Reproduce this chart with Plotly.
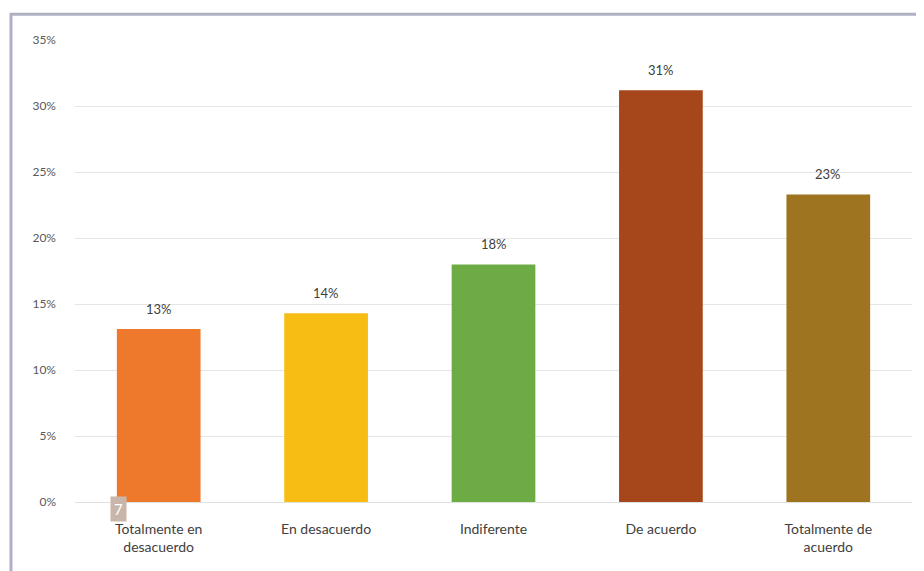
import plotly.graph_objects as go

categorias = ["Totalmente en<br>desacuerdo", "En desacuerdo", "Indiferente",
              "De acuerdo", "Totalmente de<br>acuerdo"]
porcentajes = [13.1, 14.3, 18.0, 31.2, 23.3]
etiquetas = ["13%", "14%", "18%", "31%", "23%"]
colores = ["#ee782c", "#f8bd12", "#6dab45", "#a5471a", "#9e7420"]
ticks_y = [0, 5, 10, 15, 20, 25, 30, 35]
ticks_y_texto = ["0%", "5%", "10%", "15%", "20%", "25%", "30%", "35%"]

fig = go.Figure([
    go.Bar(x=categorias, y=porcentajes,
           marker=dict(color=colores, line=dict(width=0)))
])

# etiquetas de datos sobre cada barra
for cat, val, txt in zip(categorias, porcentajes, etiquetas):
    fig.add_annotation(x=cat, y=val, text=txt, showarrow=False,
                       yanchor="bottom", yshift=10,
                       font=dict(size=13, color="#404040"))

fig.update_layout(
    width=924, height=571,
    margin=dict(l=67, r=20, t=32, b=77),
    paper_bgcolor="white", plot_bgcolor="white",
    font=dict(family="Lato, Open Sans, sans-serif", size=13, color="#595959"),
    bargap=0.5,
    showlegend=False,
)
fig.update_yaxes(range=[0, 35], tickvals=ticks_y, ticktext=ticks_y_texto,
                 showgrid=True, gridcolor="#e6e6e6", gridwidth=1,
                 zeroline=False, showline=False, ticklabelstandoff=18,
                 tickfont=dict(size=12, color="#595959"))
fig.update_xaxes(showline=True, linecolor="#e0e0e0", ticks="",
                 ticklabelstandoff=14,
                 tickfont=dict(size=14, color="#404040"))

# marco exterior del gráfico
fig.add_shape(type="rect", xref="paper", yref="paper",
              x0=-0.0765, x1=1.05, y0=-0.3, y1=1.056,
              line=dict(color="#aeb1c4", width=3), layer="below")

# pequeño recuadro "7"
fig.add_annotation(xref="paper", yref="paper", x=0.042, y=-0.043,
                   text="7", showarrow=False, bgcolor="#c9b6aa",
                   font=dict(color="white", size=15), borderpad=3)

fig.write_html("out.html")
